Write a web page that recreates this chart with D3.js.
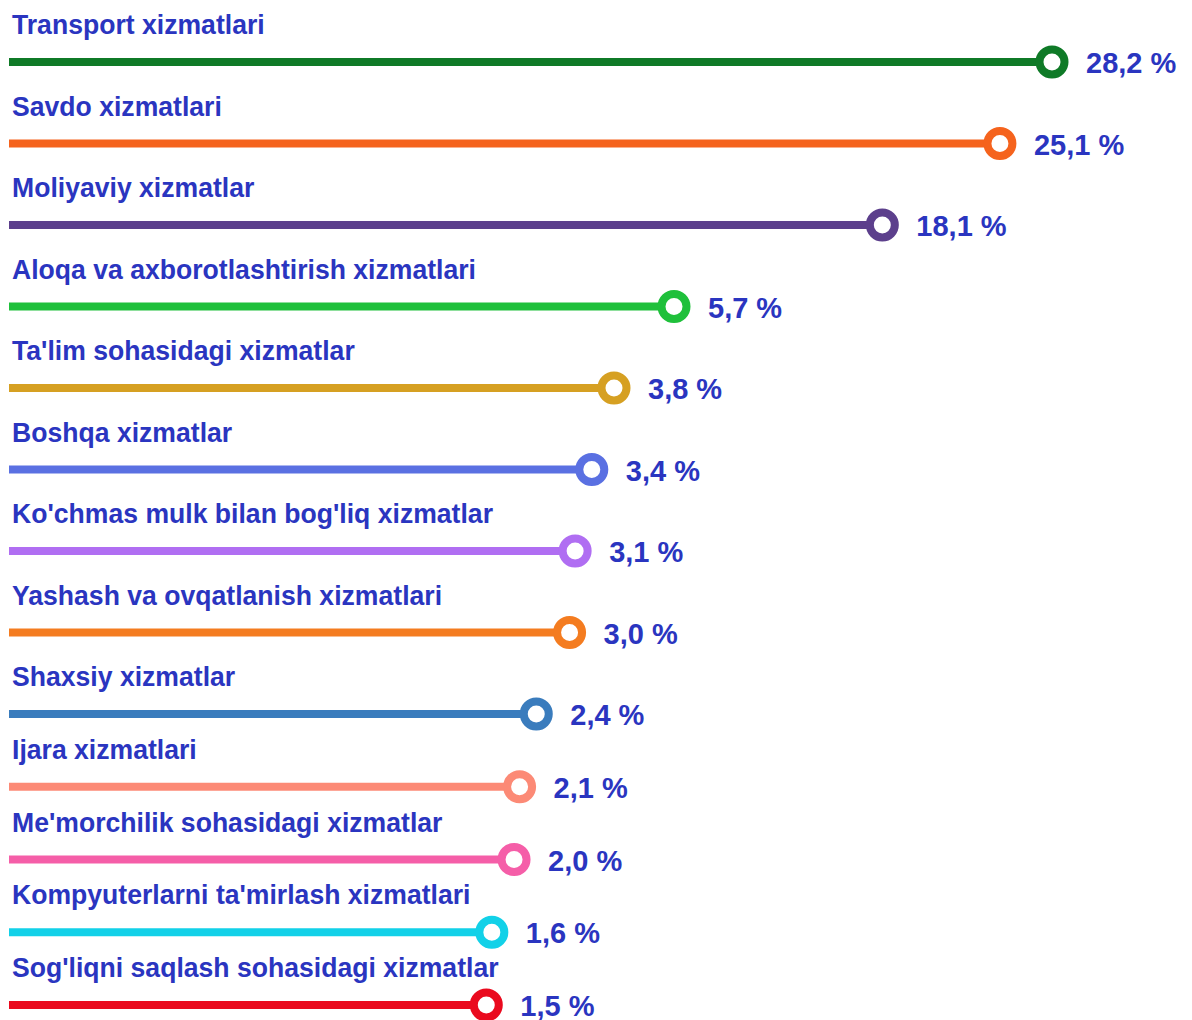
<!DOCTYPE html>
<html>
<head>
<meta charset="utf-8">
<script src="https://cdn.jsdelivr.net/npm/d3@7"></script>
<style>
  html, body { margin: 0; padding: 0; background: #fff; }
  svg { display: block; }
</style>
</head>
<body>
<script>
// 数据
const categories = [
  'Transport xizmatlari',
  'Savdo xizmatlari',
  'Moliyaviy xizmatlar',
  'Aloqa va axborotlashtirish xizmatlari',
  "Ta'lim sohasidagi xizmatlar",
  'Boshqa xizmatlar',
  "Ko'chmas mulk bilan bog'liq xizmatlar",
  'Yashash va ovqatlanish xizmatlari',
  'Shaxsiy xizmatlar',
  'Ijara xizmatlari',
  "Me'morchilik sohasidagi xizmatlar",
  "Kompyuterlarni ta'mirlash xizmatlari",
  "Sog'liqni saqlash sohasidagi xizmatlar"
];
const values = [28.2, 25.1, 18.1, 5.7, 3.8, 3.4, 3.1, 3.0, 2.4, 2.1, 2.0, 1.6, 1.5];
const colors = [
  '#0f7a27', '#f5631d', '#5c3f8c', '#1fc03b', '#d6a022', '#5a70e2', '#b06ef2',
  '#f47c20', '#3a7cbd', '#fc8a76', '#f55ea8', '#12d1e8', '#ea0a1e'
];

const width = 1192, height = 1020;
const textColor = '#2a35c0';
const font = '"Liberation Sans", Arial, sans-serif';

// 比例尺 (原图不是严格线性, 分段)
const x = d3.scaleLinear()
  .domain([0, 3.8, 5.7, 28.2])
  .range([403, 614, 674, 1052]);

const y = d3.scaleLinear()
  .domain([0, 8, 12])
  .range([62, 714, 1005]);

const x0 = 9;

const svg = d3.select('body')
  .append('svg')
  .attr('width', width)
  .attr('height', height);

const row = svg.selectAll('g.row')
  .data(values)
  .join('g')
  .attr('class', 'row')
  .attr('transform', (d, i) => `translate(0,${y(i)})`);

// 线
row.append('line')
  .attr('x1', x0)
  .attr('x2', d => x(d))
  .attr('y1', 0)
  .attr('y2', 0)
  .attr('stroke', (d, i) => colors[i])
  .attr('stroke-width', 8);

// 圆
row.append('circle')
  .attr('cx', d => x(d))
  .attr('cy', 0)
  .attr('r', 12.5)
  .attr('fill', '#fff')
  .attr('stroke', (d, i) => colors[i])
  .attr('stroke-width', 8);

// 名称 (稍微压窄)
row.append('text')
  .attr('transform', 'translate(12,-28) scale(0.95,1)')
  .attr('fill', textColor)
  .style('font-family', font)
  .style('font-weight', 'bold')
  .style('font-size', '28px')
  .text((d, i) => categories[i]);

// 数值
row.append('text')
  .attr('x', d => x(d) + 34)
  .attr('y', 11)
  .attr('fill', textColor)
  .style('font-family', font)
  .style('font-weight', 'bold')
  .style('font-size', '29px')
  .text(d => d3.format('.1f')(d).replace('.', ',') + ' %');
</script>
</body>
</html>
